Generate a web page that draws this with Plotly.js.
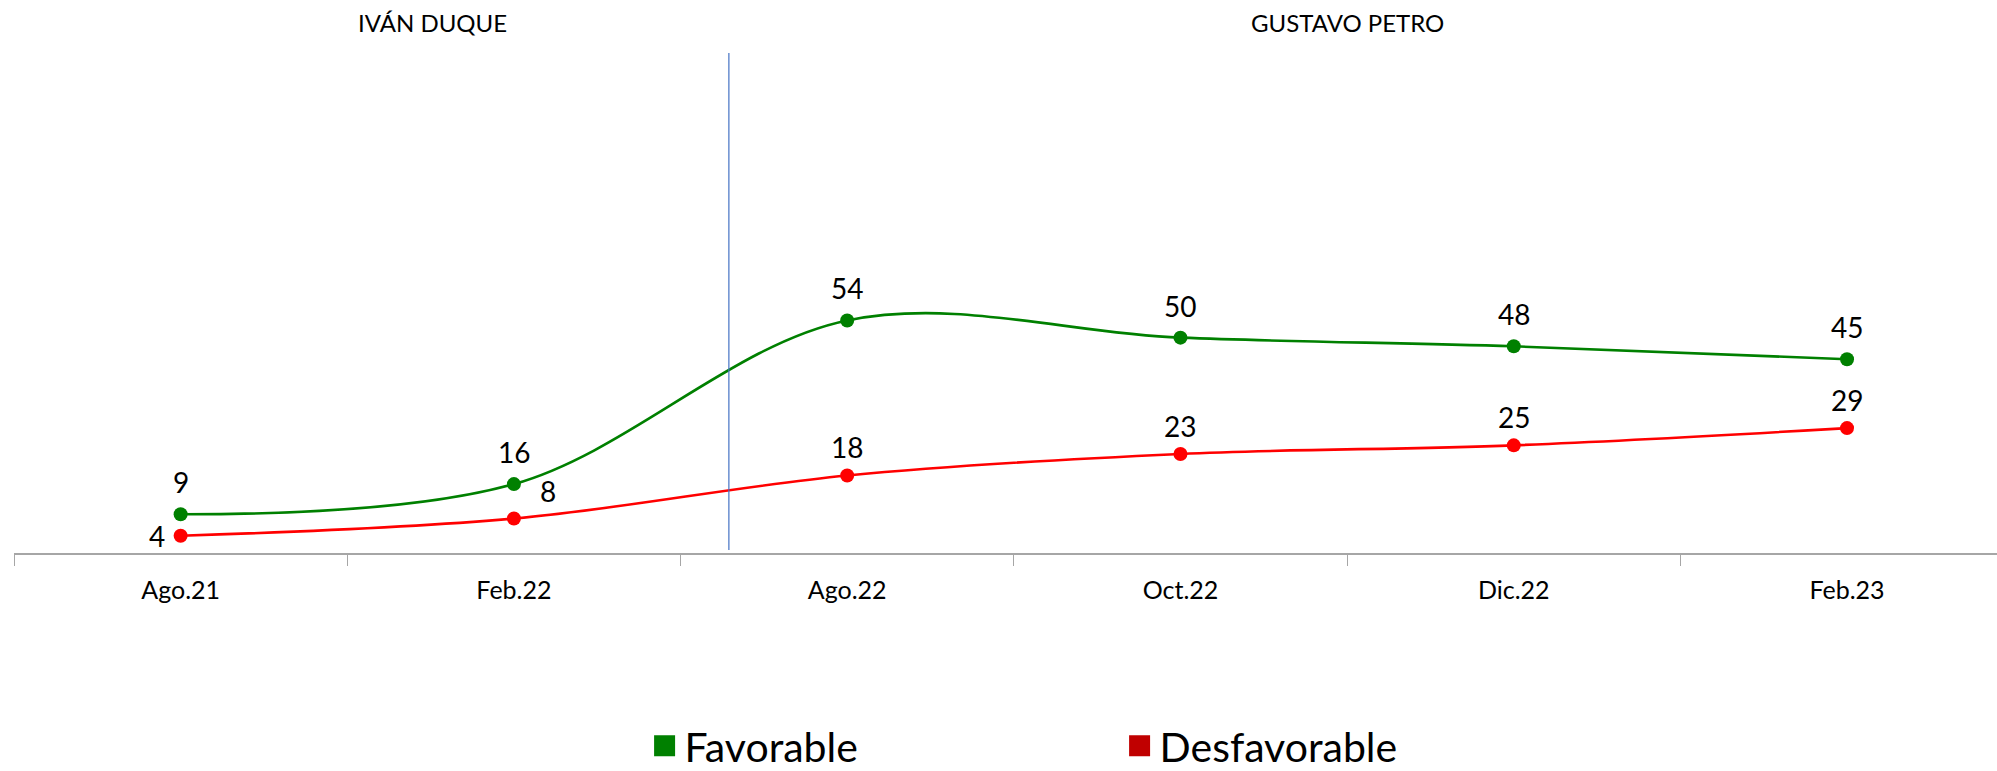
<!DOCTYPE html>
<html>
<head>
<meta charset="utf-8">
<script src="https://cdn.plot.ly/plotly-3.0.1.min.js"></script>
<style>
  html, body { margin: 0; padding: 0; background: #ffffff; }
  #chart { width: 1997px; height: 771px; }
</style>
</head>
<body>
<div id="chart"></div>
<script>
// ---- data ----
const categories = ["Ago.21", "Feb.22", "Ago.22", "Oct.22", "Dic.22", "Feb.23"];
const favorable = [9, 16, 54, 50, 48, 45];
const desfavorable = [4, 8, 18, 23, 25, 29];
const seriesNames = ["Favorable", "Desfavorable"];
const periodLabels = ["IVÁN DUQUE", "GUSTAVO PETRO"];

// ---- styles ----
const FONT = "Lato, 'Open Sans', sans-serif";
const green = "#008000";
const red = "#FF0000";
const legendRed = "#C00000";

const traces = [
  {
    x: categories, y: favorable, name: seriesNames[0], type: "scatter",
    mode: "lines+markers", showlegend: false, hoverinfo: "skip",
    line: { color: green, width: 2.6, shape: "spline", smoothing: 1 },
    marker: { color: green, size: 14 }
  },
  {
    x: categories, y: desfavorable, name: seriesNames[1], type: "scatter",
    mode: "lines+markers", showlegend: false, hoverinfo: "skip",
    line: { color: red, width: 2.6, shape: "spline", smoothing: 1 },
    marker: { color: red, size: 14 }
  },
  // legend entries
  {
    x: [null], y: [null], name: seriesNames[0], type: "scatter", mode: "markers",
    marker: { color: green, size: 16, symbol: "square", line: { color: green, width: 5 } }, showlegend: true
  },
  {
    x: [null], y: [null], name: seriesNames[1], type: "scatter", mode: "markers",
    marker: { color: legendRed, size: 16, symbol: "square", line: { color: legendRed, width: 5 } }, showlegend: true
  }
];

const annotations = [];
favorable.forEach((v, i) => {
  annotations.push({
    x: categories[i], y: v, xref: "x", yref: "y", text: String(v),
    showarrow: false, yshift: 32, xanchor: "center", yanchor: "middle",
    font: { family: FONT, size: 28, color: "#000" }
  });
});
desfavorable.forEach((v, i) => {
  let xs = 0, ys = 28, xa = "center";
  if (i === 0) { xs = -14; ys = 0; xa = "right"; }
  if (i === 1) { xs = 34; ys = 28; xa = "center"; }
  annotations.push({
    x: categories[i], y: v, xref: "x", yref: "y", text: String(v),
    showarrow: false, xshift: xs, yshift: ys, xanchor: xa, yanchor: "middle",
    font: { family: FONT, size: 28, color: "#000" }
  });
});
// period headers
annotations.push({
  x: 0.757, y: 1.06, xref: "x", yref: "paper", text: periodLabels[0],
  showarrow: false, xanchor: "center", yanchor: "middle",
  font: { family: FONT, size: 24, color: "#000" }
});
annotations.push({
  x: 3.5, y: 1.06, xref: "x", yref: "paper", text: periodLabels[1],
  showarrow: false, xanchor: "center", yanchor: "middle",
  font: { family: FONT, size: 24, color: "#000" }
});

const layout = {
  width: 1997, height: 771,
  paper_bgcolor: "#ffffff", plot_bgcolor: "#ffffff",
  margin: { l: 14, r: 0, t: 53, b: 218, pad: 0, autoexpand: false },
  font: { family: FONT, color: "#000" },
  xaxis: {
    type: "category", categoryorder: "array", categoryarray: categories,
    range: [-0.5, 5.45], fixedrange: true, automargin: false,
    showline: true, linecolor: "#A6A6A6", linewidth: 1.5,
    ticks: "outside", tickson: "boundaries", ticklen: 11, tickcolor: "#A6A6A6", tickwidth: 1,
    showgrid: false, zeroline: false,
    tickfont: { family: FONT, size: 25, color: "#000" },
    ticklabelstandoff: 14
  },
  yaxis: {
    range: [0, 116.1], visible: false, showgrid: false, zeroline: false, fixedrange: true
  },
  shapes: [
    {
      type: "line", xref: "x", yref: "y", x0: 1.645, x1: 1.645, y0: 0.7, y1: 116.1,
      line: { color: "#4472C4", width: 1.2 }
    }
  ],
  legend: {
    orientation: "h", x: 0.318, xanchor: "left", y: -0.386, yanchor: "middle",
    font: { family: FONT, size: 41, color: "#000" },
    entrywidthmode: "pixels", entrywidth: 430,
    itemclick: false, itemdoubleclick: false, bgcolor: "rgba(0,0,0,0)"
  },
  annotations: annotations,
  showlegend: true
};

Plotly.newPlot("chart", traces, layout, { displayModeBar: false, staticPlot: true });
</script>
</body>
</html>
